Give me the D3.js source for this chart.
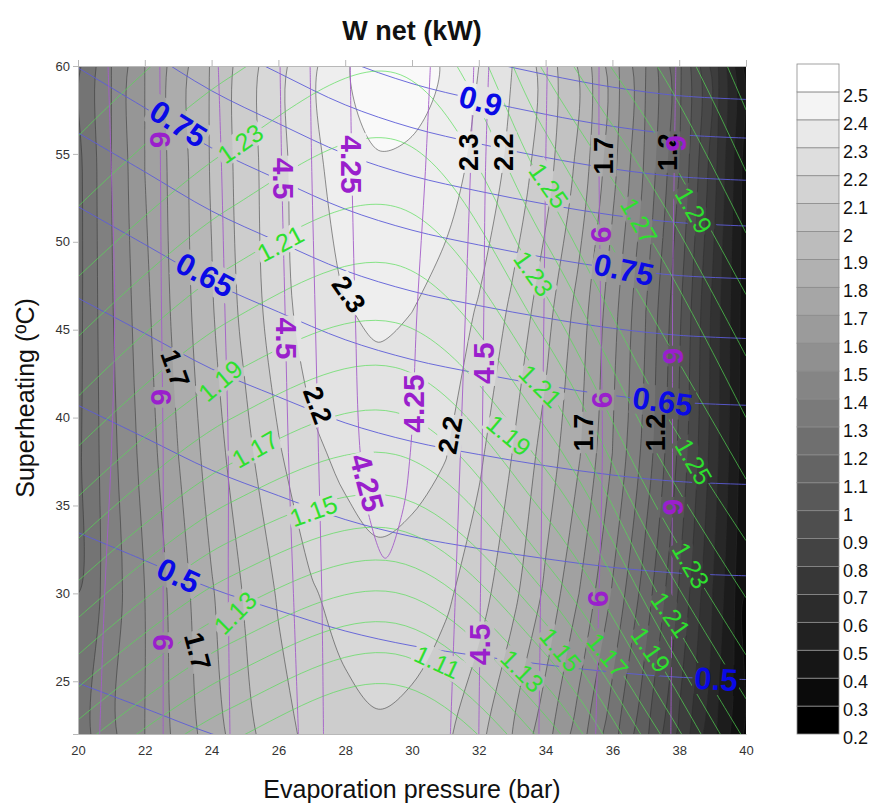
<!DOCTYPE html>
<html><head><meta charset="utf-8">
<script src="https://cdn.jsdelivr.net/npm/d3@7"></script>
<style>
body{margin:0;background:#fff}
svg{display:block}
text{font-family:"Liberation Sans",Arial,Helvetica,sans-serif}
</style>
</head><body>
<svg id="chart" width="882" height="807"></svg>
<script>
// ---------------- DATA ----------------
const pressureTicks = [20,22,24,26,28,30,32,34,36,38,40];
const superheatTicks = [25,30,35,40,45,50,55,60];
const legendLevels = [0.2,0.3,0.4,0.5,0.6,0.7,0.8,0.9,1,1.1,1.2,1.3,1.4,1.5,1.6,1.7,1.8,1.9,2,2.1,2.2,2.3,2.4,2.5,2.6];

// W net (kW) read on a grid: columns = pressure (bar), rows = superheating (ºC)
const wP = [20,21,22,23,24,25,26,27,28,29,30,31,32,33,34,35,36,37,38,39,40];
const wT = [22,30,38,46,54,60];
const wNet = [
  [1.25,1.38,1.50,1.63,1.75,1.87,1.96,2.03,2.065,2.085,2.07,2.02,1.93,1.80,1.64,1.45,1.24,1.02,0.78,0.53,0.28],
  [1.20,1.35,1.50,1.65,1.79,1.91,2.01,2.09,2.14,2.17,2.155,2.12,2.04,1.93,1.78,1.60,1.39,1.15,0.89,0.60,0.30],
  [1.18,1.37,1.54,1.70,1.85,1.97,2.09,2.18,2.225,2.245,2.235,2.205,2.12,2.00,1.86,1.71,1.50,1.26,0.98,0.66,0.33],
  [1.17,1.39,1.57,1.74,1.89,2.03,2.16,2.25,2.295,2.315,2.30,2.26,2.19,2.08,1.94,1.76,1.54,1.30,1.02,0.68,0.34],
  [1.17,1.40,1.60,1.75,1.91,2.05,2.17,2.27,2.35,2.385,2.375,2.34,2.27,2.17,2.04,1.87,1.63,1.38,1.10,0.75,0.35],
  [1.18,1.40,1.60,1.75,1.91,2.05,2.17,2.28,2.39,2.46,2.45,2.39,2.30,2.20,2.06,1.89,1.65,1.40,1.12,0.77,0.36]
];

// blue isolines: superheating (ºC) at each pressure of blueP
const blueLevels = [0.45,0.5,0.55,0.6,0.65,0.7,0.75,0.8,0.85,0.9,0.95];
const blueP = [20,22,24,26,28,30,32,34,36,38,40];
const blueT = [
  [24.9,23.46,22.01,20.87,19.81,19.05,18.52,18.06,17.68,17.41,17.3],
  [33.46,31.87,30.28,29.03,27.86,27.02,26.44,25.94,25.52,25.23,25.1],
  [40.7,38.86,37.01,35.56,34.2,33.23,32.55,31.97,31.48,31.15,31.0],
  [46.8,44.79,42.77,41.18,39.7,38.64,37.9,37.26,36.73,36.36,36.2],
  [52.0,49.85,47.71,46.01,44.43,43.3,42.51,41.83,41.26,40.87,40.7],
  [56.2,53.98,51.75,50.0,48.36,47.19,46.37,45.67,45.08,44.68,44.5],
  [59.9,57.62,55.34,53.54,51.86,50.66,49.82,49.1,48.5,48.08,47.9],
  [63.3,60.94,58.59,56.73,54.99,53.75,52.88,52.14,51.52,51.09,50.9],
  [66.5,64.03,61.56,59.61,57.79,56.49,55.58,54.8,54.15,53.7,53.5],
  [69.4,66.83,64.27,62.24,60.35,59.0,58.06,57.25,56.57,56.1,55.9],
  [72.2,69.52,66.84,64.73,62.75,61.34,60.36,59.51,58.8,58.31,58.1]
];

// green isolines: superheating (ºC) at each pressure of greenP
const greenLevels = [1.09,1.10,1.11,1.12,1.13,1.14,1.15,1.16,1.17,1.18,1.19,1.20,1.21,1.22,1.23,1.24,1.25,1.26,1.27,1.28,1.29,1.30,1.31,1.32,1.33];
const greenP = [20,24.5,29.5,33.9,37.5,40];
const greenT = [
  [16.0,21.5,24.8,18.0,7.0,-1],
  [17.75,23.4,26.55,19.75,9.0,0.5],
  [19.5,25.3,28.3,21.5,11.0,2],
  [21.15,27.1,30.05,23.25,12.75,4],
  [22.8,28.9,31.8,25.0,14.5,6],
  [24.65,30.9,33.65,26.75,16.35,8.25],
  [26.5,32.9,35.5,28.5,18.2,10.5],
  [28.6,35.1,37.9,30.25,20.0,12.25],
  [30.7,37.3,40.3,32.0,21.8,14],
  [33.1,39.85,42.85,34.65,23.8,15.75],
  [35.5,42.4,45.4,37.3,25.8,17.5],
  [38.35,45.45,48.7,39.7,27.65,19.5],
  [41.2,48.5,52.0,42.1,29.5,21.5],
  [44.6,51.85,55.8,44.7,31.9,24],
  [48.0,55.2,59.6,47.3,34.3,26.5],
  [52.0,59.3,63.55,50.3,37.4,29.75],
  [56.0,63.5,67.5,53.3,40.5,33],
  [60,67.25,71.25,56.55,44.75,36.5],
  [64,71,75,59.8,49,40],
  [68,75,79,62.9,52.2,43.5],
  [72,79,83,66,55.5,47],
  [76,83,87,69.5,59.5,50.5],
  [80,87,91,73,63.5,54],
  [84,91,95,76.5,67.5,57.5],
  [88,95,99,80,71.5,61]
];

// purple isolines: pressure (bar) at each superheating of purpleT
const purpleLevels = [9,6,5,4.5,4.35,4.35,4.5,5,6,9];
const purpleT = [22,30,38,46,54,60];
const purpleP = [
  [20.65,20.8,21.0,21.1,21.0,20.9],
  [22.55,22.55,22.55,22.5,22.47,22.45],
  [24.55,24.5,24.5,24.4,24.3,24.2],
  [26.6,26.45,26.3,26.2,26.1,26.05],
  [27.35,27.3,27.2,27.1,27.0,26.95],
  [31.15,31.3,31.45,31.6,31.75,31.85],
  [32.0,32.05,32.1,32.15,32.2,32.3],
  [33.8,33.85,33.9,33.95,34.0,34.05],
  [35.5,35.6,35.7,35.65,35.6,35.6],
  [37.75,37.78,37.8,37.8,37.85,37.9]
];
// purple 4.25 closed (U) isoline
const purpleULevel = 4.25;
const purpleUP = [28.15,28.2,28.3,28.45,28.7,29.2,29.7,29.95,30.15,30.4,30.55];
const purpleUT = [60,54,46,38,34.5,32.0,34.5,38,46,54,60];

// contour label placement (text, pressure, superheating, angle)
const blueLabels = [
  ["0.75",23.0,56.7,32],["0.65",23.8,48.1,28],["0.9",32.05,58.0,15],["0.75",36.34,48.4,12],
  ["0.65",37.5,40.9,8],["0.5",23.0,31.0,25],["0.5",39.1,25.1,3]
];
const greenLabels = [
  ["1.23",24.86,55.6,-35],["1.21",26.06,49.9,-28],["1.19",24.26,42.1,-40],["1.17",25.3,38.2,-30],
  ["1.15",27.05,34.7,-20],["1.13",24.7,28.9,-45],["1.25",34.1,53.2,55],["1.23",33.64,48.2,55],
  ["1.27",36.8,51.2,60],["1.29",38.44,51.8,60],["1.21",33.85,41.8,45],["1.19",32.9,39.0,40],
  ["1.25",38.44,37.5,60],["1.11",30.76,26.1,25],["1.13",33.3,25.6,45],["1.15",34.45,26.8,50],
  ["1.17",35.86,26.5,50],["1.19",37.15,26.8,55],["1.21",37.75,28.8,55],["1.23",38.35,31.6,60]
];
const blackLabels = [
  ["2.3",31.7,55.1,-90],["2.2",32.75,55.1,-90],["1.7",35.74,54.9,-90],["1.2",37.66,55.1,-90],
  ["2.3",28.1,47.0,55],["2.2",27.17,40.7,70],["1.7",22.9,42.8,70],["2.2",31.15,39.0,-80],
  ["1.7",35.14,39.15,-90],["1.2",37.3,39.15,-90],["1.7",23.57,26.7,75]
];
const purpleLabels = [
  ["6",22.46,55.8,90],["4.5",26.15,53.6,90],["4.25",28.2,54.4,90],["4.5",26.25,44.5,90],
  ["6",22.5,41.15,90],["4.25",30.05,40.8,-90],["4.25",28.65,36.3,75],["4.5",32.13,43.1,-90],
  ["6",35.68,41,-90],["9",37.8,43.5,-90],["9",37.8,34.9,-90],["6",35.65,50.4,-90],
  ["9",37.88,55.6,-90],["6",35.56,29.7,-90],["4.5",32.03,27.1,-90],["6",22.55,27.2,90]
];

// ---------------- DRAWING ----------------
const svg = d3.select("#chart");
const W = 882, H = 807;
const x = d3.scaleLinear([20,40],[78,746]);
const y = d3.scaleLinear([22,60],[734,66]);
const nBands = legendLevels.length - 1;
const grayOf = i => { const g = Math.min(255, Math.round(i/(nBands-1)*255)); return `rgb(${g},${g},${g})`; };
const bandIndex = v => Math.round((v - legendLevels[0]) / 0.1);

const defs = svg.append("defs");
defs.append("clipPath").attr("id","plotClip").append("rect")
  .attr("x",x(20)).attr("y",y(60)).attr("width",x(40)-x(20)).attr("height",y(22)-y(60));
const mask = defs.append("mask").attr("id","labelMask").attr("maskUnits","userSpaceOnUse")
  .attr("x",0).attr("y",0).attr("width",W).attr("height",H);
mask.append("rect").attr("width",W).attr("height",H).attr("fill","white");

const plot = svg.append("g").attr("clip-path","url(#plotClip)");
plot.append("rect").attr("x",x(20)).attr("y",y(60)).attr("width",x(40)-x(20)).attr("height",y(22)-y(60))
  .attr("fill",grayOf(0.5));

// filled contours of W net
const n = wP.length, m = wT.length;
const flat = [];
for (let j=0;j<m;j++) for (let i=0;i<n;i++) flat.push(wNet[j][i]);
const gx = d3.scaleLinear().domain(wP.map((_,i)=>i+0.5)).range(wP);
const gy = d3.scaleLinear().domain(wT.map((_,j)=>j+0.5)).range(wT);
const thresholds = legendLevels.slice(1,-1);
const contours = d3.contours().size([n,m]).thresholds(thresholds)(flat);
const ringLine = d3.line().curve(d3.curveCatmullRomClosed.alpha(0.5));
const contourPath = mp => mp.coordinates.map(poly => poly.map(ring =>
  ringLine(ring.slice(0,-1).map(([a,b]) => [x(gx(a)), y(gy(b))]))).join("")).join("");
const cPaths = contours.map(c => ({value:c.value, d:contourPath(c)}));

plot.selectAll("path.band").data(cPaths).join("path").attr("class","band")
  .attr("d",d=>d.d).attr("fill",d=>grayOf(bandIndex(d.value)+0.5)).attr("fill-rule","evenodd");

const lines = plot.append("g").attr("mask","url(#labelMask)");
lines.selectAll("path.wline").data(cPaths).join("path").attr("class","wline")
  .attr("d",d=>d.d).attr("fill","none").attr("stroke","#2b2b2b").attr("stroke-width",0.6).attr("stroke-opacity",0.85);

const openLine = d3.line().curve(d3.curveCatmullRom.alpha(0.5));
// blue
lines.selectAll("path.blue").data(blueLevels).join("path").attr("class","blue")
  .attr("d",(lv,k)=>openLine(blueP.map((p,i)=>[x(p),y(blueT[k][i])])))
  .attr("fill","none").attr("stroke","#5c5cd8").attr("stroke-width",0.9);
// green
lines.selectAll("path.green").data(greenLevels).join("path").attr("class","green")
  .attr("d",(lv,k)=>openLine(greenP.map((p,i)=>[x(p),y(greenT[k][i])])))
  .attr("fill","none").attr("stroke","#55dd55").attr("stroke-width",0.8).attr("stroke-opacity",0.85);
// purple
lines.selectAll("path.purple").data(purpleLevels).join("path").attr("class","purple")
  .attr("d",(lv,k)=>openLine(purpleT.map((t,i)=>[x(purpleP[k][i]),y(t)])))
  .attr("fill","none").attr("stroke","#a45cc8").attr("stroke-width",0.9);
lines.append("path").datum(purpleULevel)
  .attr("d",openLine(purpleUP.map((p,i)=>[x(p),y(purpleUT[i])])))
  .attr("fill","none").attr("stroke","#a45cc8").attr("stroke-width",0.9);

// labels
const labelG = svg.append("g").attr("clip-path","url(#plotClip)");
function drawLabels(list, color, size, weight){
  labelG.selectAll(null).data(list).join("text")
    .attr("transform",d=>`translate(${x(d[1])},${y(d[2])}) rotate(${d[3]})`)
    .attr("text-anchor","middle").attr("dominant-baseline","central")
    .attr("font-size",size).attr("font-weight",weight).attr("fill",color)
    .text(d=>d[0])
    .each(function(){
      const bb = this.getBBox();
      mask.append("rect").attr("x",bb.x-2).attr("y",bb.y+2).attr("width",bb.width+4).attr("height",bb.height-4)
        .attr("transform",this.getAttribute("transform")).attr("fill","black");
    });
}
drawLabels(greenLabels,"#2ee02e",25,"normal");
drawLabels(blackLabels,"#000000",27,"bold");
drawLabels(purpleLabels,"#9a1fcc",30,"bold");
drawLabels(blueLabels,"#0a0ae6",31,"bold");

// axes
const axisColor = "#b8b8b8";
const xAxis = svg.append("g").attr("transform",`translate(0,${y(22)})`)
  .call(d3.axisBottom(x).tickValues(pressureTicks).tickSize(0).tickPadding(12).tickFormat(d3.format("d")));
const xTop = svg.append("g").attr("transform",`translate(0,${y(60)})`)
  .call(d3.axisTop(x).tickValues(pressureTicks).tickSize(6).tickFormat(""));
const yAxis = svg.append("g").attr("transform",`translate(${x(20)},0)`)
  .call(d3.axisLeft(y).tickValues(superheatTicks).tickSize(5).tickPadding(3).tickFormat(d3.format("d")));
[xAxis,xTop,yAxis].forEach(g=>{
  g.select(".domain").attr("stroke",axisColor);
  g.selectAll(".tick line").attr("stroke",axisColor);
  g.selectAll(".tick text").attr("fill","#333").attr("font-size",13)
    .attr("font-family","'Liberation Sans',Arial,sans-serif");
});

// titles
svg.append("text").attr("x",412).attr("y",40).attr("text-anchor","middle")
  .attr("font-size",27).attr("font-weight","bold").attr("fill","#111").text("W net (kW)");
svg.append("text").attr("x",412).attr("y",798).attr("text-anchor","middle")
  .attr("font-size",25).attr("fill","#111").text("Evaporation pressure (bar)");
svg.append("text").attr("transform","translate(34,398) rotate(-90)").attr("text-anchor","middle")
  .attr("font-size",25).attr("fill","#111").text("Superheating (ºC)");

// legend
const ly = d3.scaleLinear([legendLevels[0],legendLevels[legendLevels.length-1]],[734,64]);
const lg = svg.append("g");
lg.selectAll("rect").data(legendLevels.slice(0,-1)).join("rect")
  .attr("x",797).attr("width",42)
  .attr("y",(v,i)=>ly(legendLevels[i+1])).attr("height",(v,i)=>ly(v)-ly(legendLevels[i+1]))
  .attr("fill",(v,i)=>grayOf(i)).attr("stroke","#8a8a8a").attr("stroke-width",0.8);
lg.selectAll("text").data(legendLevels.slice(0,-1)).join("text")
  .attr("x",843).attr("y",v=>ly(v)+4).attr("dominant-baseline","central")
  .attr("font-size",18).attr("fill","#111").text(v=>String(v));
</script>
</body></html>
